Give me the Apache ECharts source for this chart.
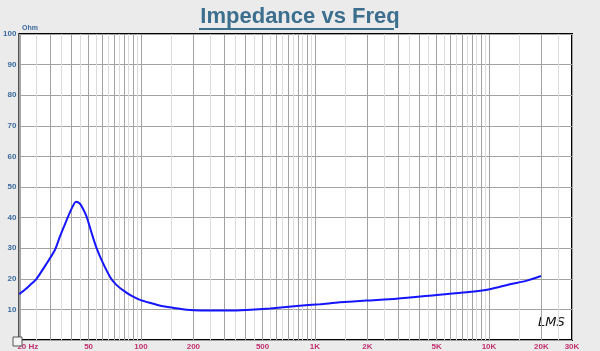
<!DOCTYPE html>
<html>
<head>
<meta charset="utf-8">
<script src="https://cdn.jsdelivr.net/npm/echarts@6/dist/echarts.min.js"></script>
<style>
html,body{margin:0;padding:0;background:#ebebeb;}
#c{width:600px;height:351px;}
</style>
</head>
<body>
<div id="c"></div>
<script>
// Data
var freqHz = [20, 21.5, 23.0, 25.1, 28.7, 32.0, 34.2, 37.4, 40.0, 42.3, 44.5, 46.5, 48.7, 52.1, 55.6, 59.4, 66.3, 72, 80.9, 89, 98.7, 115, 134, 167, 183, 250, 324, 404, 552, 786, 1068, 1390, 1976, 2940, 5000, 7440, 10100, 13200, 16500, 19900];
var impedanceOhm = [15.0, 16.4, 17.9, 20.0, 25.0, 29.4, 33.8, 39.2, 43.0, 45.2, 44.6, 42.8, 40.3, 34.9, 30.0, 26.1, 20.7, 18.1, 15.8, 14.3, 13.1, 12.0, 11.0, 10.2, 9.9, 9.6, 9.6, 9.8, 10.3, 11.1, 11.7, 12.3, 12.9, 13.5, 14.7, 15.6, 16.6, 18.2, 19.4, 20.9];
var xTickValues = [20, 50, 100, 200, 500, 1000, 2000, 5000, 10000, 20000, 30000];
var xTickLabels = ['20 Hz', '50', '100', '200', '500', '1K', '2K', '5K', '10K', '20K', '30K'];

// grid line positions (1..9 x 10^n major, (k+0.5) x 10^n minor)
var majorGrid = [], minorGrid = [];
[10, 100, 1000, 10000].forEach(function (d) {
  for (var k = 1; k <= 9; k++) {
    var v = k * d;
    if (v >= 20 && v <= 30000) majorGrid.push(v);
    var m = (k + 0.5) * d;
    if (m > 20 && m < 30000) minorGrid.push(m);
  }
});

var points = freqHz.map(function (f, i) { return [f, impedanceOhm[i]]; });
var labelStyle = {color: '#c0306e', fontSize: 8, fontWeight: 'bold', fontFamily: 'Liberation Sans'};

var chart = echarts.init(document.getElementById('c'), null, {renderer: 'canvas'});
chart.setOption({
  backgroundColor: '#ebebeb',
  animation: false,
  grid: {left: 19, right: 28, top: 34, bottom: 11, show: true, backgroundColor: '#ffffff', borderColor: '#000000', borderWidth: 2, containLabel: false},
  xAxis: [{
    type: 'log', logBase: 10, min: 20, max: 30000,
    axisLine: {show: false},
    axisTick: {show: false, customValues: minorGrid},
    splitLine: {show: true, lineStyle: {color: '#dcdcdc', width: 1}},
    axisLabel: {show: false}
  }, {
    type: 'log', logBase: 10, min: 20, max: 30000, position: 'bottom',
    axisLine: {show: false},
    axisTick: {show: false, customValues: majorGrid},
    splitLine: {show: true, lineStyle: {color: '#a2a2a2', width: 1}},
    axisLabel: {
      show: true, customValues: xTickValues, margin: 3,
      color: labelStyle.color, fontSize: 8, fontWeight: 'bold', fontFamily: 'Liberation Sans',
      rich: {
        first: {color: labelStyle.color, fontSize: 8, fontWeight: 'bold', fontFamily: 'Liberation Sans', padding: [0, 0, 0, 17]},
        n: {color: labelStyle.color, fontSize: 8, fontWeight: 'bold', fontFamily: 'Liberation Sans'}
      },
      formatter: function (v) {
        for (var i = 0; i < xTickValues.length; i++) {
          if (Math.abs(xTickValues[i] - v) / xTickValues[i] < 1e-6) {
            return i === 0 ? '{first|' + xTickLabels[i] + '}' : '{n|' + xTickLabels[i] + '}';
          }
        }
        return '';
      }
    }
  }],
  yAxis: {
    type: 'value', min: 0, max: 100, interval: 10,
    axisLine: {show: false}, axisTick: {show: false},
    splitLine: {show: true, lineStyle: {color: '#a2a2a2', width: 1}},
    axisLabel: {
      margin: 3, color: '#3a6a9c', fontSize: 8, fontWeight: 'bold', fontFamily: 'Liberation Sans',
      formatter: function (v) { return v === 0 ? '' : String(v); }
    }
  },
  series: [{
    type: 'line', xAxisIndex: 1, data: points, smooth: 0.25, showSymbol: false,
    lineStyle: {color: '#1515ff', width: 2}, z: 5
  }],
  graphic: [
    {type: 'text', left: 'center', top: 6, style: {text: 'Impedance vs Freq', fill: '#3c6e8e', font: 'bold 22px "Liberation Sans"'}},
    {type: 'rect', shape: {x: 199, y: 28, width: 195, height: 2}, style: {fill: '#3c6e8e'}},
    {type: 'text', left: 22, top: 25, style: {text: 'Ohm', fill: '#3a6a9c', font: 'bold 7px "Liberation Sans"'}},
    {type: 'text', left: 538, top: 316, style: {text: 'LMS', fill: '#111111', font: 'italic 13px "DejaVu Sans"'}},
    {type: 'rect', shape: {x: 13, y: 337, width: 9, height: 9}, style: {fill: '#f4f4f4', stroke: '#555555', lineWidth: 1}, z: 10}
  ]
});
</script>
</body>
</html>
